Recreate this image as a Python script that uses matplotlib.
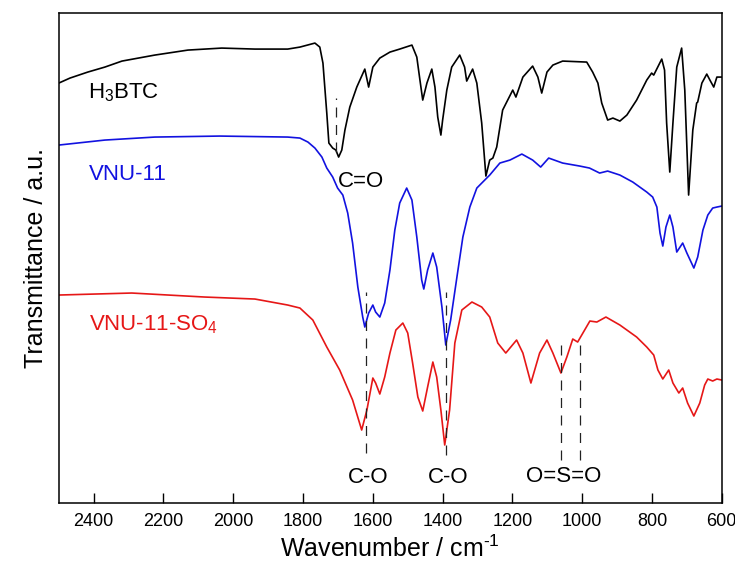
import matplotlib
matplotlib.use('Agg')
import matplotlib.pyplot as plt

plt.rcParams['font.family'] = ['Liberation Sans', 'DejaVu Sans']
plt.rcParams['mathtext.fontset'] = 'custom'
plt.rcParams['mathtext.rm'] = 'Liberation Sans'
plt.rcParams['mathtext.default'] = 'regular'

# H3BTC (black): wavenumber (cm-1) and transmittance (a.u.)
wn_btc = [2500, 2468, 2417, 2368, 2319, 2225, 2130, 2033, 1938, 1844, 1809, 1766, 1752, 1743,
          1732, 1726, 1715, 1706, 1698, 1689, 1680, 1666, 1646, 1623, 1612, 1600, 1580, 1551,
          1523, 1488, 1474, 1465, 1457, 1445, 1431, 1422, 1414, 1405, 1400, 1388, 1374, 1351,
          1337, 1331, 1314, 1302, 1288, 1276, 1265, 1256, 1245, 1228, 1199, 1190, 1170, 1142,
          1127, 1116, 1101, 1084, 1056, 987, 970, 955, 944, 927, 912, 892, 872, 844, 815, 801,
          795, 772, 764, 758, 749, 740, 729, 715, 706, 695, 683, 672, 669, 657, 643, 634, 623,
          614, 600]
t_btc = [420, 425, 431, 436, 442, 448, 453, 455, 454, 454, 456, 460, 456, 440,
         390, 360, 355, 353, 346, 353, 373, 396, 416, 434, 416, 436, 445, 451,
         454, 458, 446, 423, 403, 420, 434, 416, 386, 368, 383, 413, 436, 448,
         436, 422, 434, 420, 380, 327, 343, 345, 356, 393, 413, 406, 426, 437,
         426, 410, 431, 438, 442, 441, 431, 420, 400, 383, 385, 382, 388, 403, 423, 430,
         428, 444, 433, 380, 331, 380, 436, 455, 413, 308, 373, 400, 401, 420, 429, 423, 416,
         426, 426]

# VNU-11 (blue)
wn_vnu = [2500, 2368, 2225, 2039, 1844, 1809, 1786, 1766, 1746, 1732, 1715, 1701, 1686, 1672,
          1658, 1643, 1629, 1623, 1612, 1600, 1592, 1580, 1566, 1551, 1537, 1523, 1503, 1488,
          1474, 1460, 1454, 1443, 1428, 1417, 1402, 1391, 1377, 1359, 1342, 1322, 1302, 1285,
          1265, 1236, 1207, 1173, 1142, 1119, 1096, 1056, 1007, 979, 950, 927, 892, 855, 815,
          798, 786, 777, 769, 760, 749, 740, 729, 712, 700, 680, 669, 654, 640, 626, 614, 600]
t_vnu = [358, 363, 366, 367, 366, 365, 361, 355, 346, 335, 326, 315, 308, 290,
         260, 216, 186, 176, 190, 198, 191, 186, 200, 233, 273, 300, 315, 303,
         266, 223, 214, 233, 250, 236, 196, 158, 183, 226, 266, 296, 315, 321,
         328, 340, 343, 349, 343, 336, 345, 340, 337, 335, 330, 332, 328, 321, 311,
         306, 296, 270, 257, 276, 288, 276, 251, 260, 250, 235, 246, 273, 288, 295, 296, 297]

# VNU-11-SO4 (red)
wn_so4 = [2500, 2291, 2082, 1938, 1844, 1809, 1772, 1732, 1695, 1658, 1632, 1617, 1600, 1592,
          1580, 1566, 1551, 1534, 1514, 1500, 1486, 1471, 1457, 1443, 1428, 1417, 1405, 1394,
          1380, 1365, 1345, 1316, 1288, 1265, 1242, 1219, 1188, 1170, 1147, 1122, 1101, 1084,
          1061, 1044, 1027, 1013, 998, 978, 958, 932, 892, 844, 815, 795, 783, 769, 752, 740,
          723, 712, 698, 680, 663, 649, 640, 626, 614, 600]
t_so4 = [208, 210, 206, 204, 198, 195, 183, 156, 133, 103, 73, 93, 125, 120,
         109, 126, 150, 173, 180, 170, 140, 106, 92, 116, 141, 126, 93, 58,
         93, 160, 193, 201, 196, 186, 160, 150, 163, 150, 120, 150, 163, 150,
         130, 146, 164, 161, 170, 182, 181, 186, 178, 166, 156, 148, 133, 124, 133, 120,
         110, 115, 100, 87, 100, 118, 124, 122, 124, 123]

# band markers: wavenumber, lower and upper end of dashed line
marks_wn = [1706, 1620, 1391, 1061, 1007]
marks_lo = [351, 50, 48, 43, 43]
marks_hi = [405, 211, 211, 165, 165]

blue = '#1212e0'
red = '#e61717'

fig = plt.figure(figsize=(7.35, 5.69), dpi=100)
ax = fig.add_axes([0.080, 0.116, 0.902, 0.861])

ax.plot(wn_btc, t_btc, color='black', lw=1.2, solid_joinstyle='round')
ax.plot(wn_vnu, t_vnu, color=blue, lw=1.2, solid_joinstyle='round')
ax.plot(wn_so4, t_so4, color=red, lw=1.2, solid_joinstyle='round')

for w, lo, hi in zip(marks_wn, marks_lo, marks_hi):
    ax.plot([w, w], [lo, hi], color='#222222', lw=0.9, ls=(0, (8, 6)))

fs = 16
ax.text(2417, 405, 'H$_3$BTC', fontsize=fs, color='black', va='baseline')
ax.text(2414, 323, 'VNU-11', fontsize=fs, color=blue, va='baseline')
ax.text(1700, 316, 'C=O', fontsize=fs, color='black', va='baseline')
ax.text(2414, 173, 'VNU-11-SO$_4$', fontsize=fs, color=red, va='baseline')
ax.text(1672, 20, 'C-O', fontsize=fs, color='black', va='baseline')
ax.text(1443, 20, 'C-O', fontsize=fs, color='black', va='baseline')
ax.text(1162, 21, 'O=S=O', fontsize=fs, color='black', va='baseline')

ax.set_xlim(2500, 600)
ax.set_ylim(0, 490)
ax.set_xticks([2400, 2200, 2000, 1800, 1600, 1400, 1200, 1000, 800, 600])
ax.set_yticks([])
ax.tick_params(axis='x', direction='in', length=7, width=1, labelsize=13, pad=7)
for s in ax.spines.values():
    s.set_linewidth(1.1)

ax.set_xlabel(r'Wavenumber / cm$^{\text{-}1}$', fontsize=18)
ax.set_ylabel('Transmittance / a.u.', fontsize=18, labelpad=8)

fig.savefig('out.png', dpi=100)
